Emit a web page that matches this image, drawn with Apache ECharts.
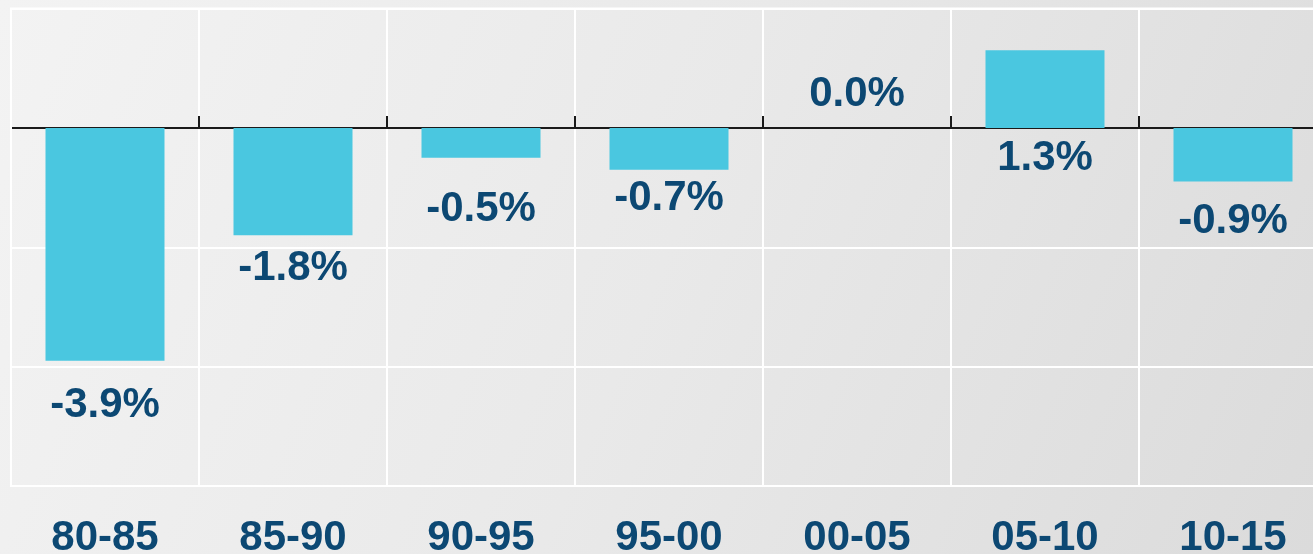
<!DOCTYPE html>
<html>
<head>
<meta charset="utf-8">
<script src="https://cdn.jsdelivr.net/npm/echarts@6/dist/echarts.min.js"></script>
<style>
html,body{margin:0;padding:0;background:#e8e8e8;overflow:hidden;}
#chart{width:1313px;height:554px;}
</style>
</head>
<body>
<div id="chart"></div>
<script>
// ---- data ----
const categories = ['80-85', '85-90', '90-95', '95-00', '00-05', '05-10', '10-15'];
const values = [-3.9, -1.8, -0.5, -0.7, 0.0, 1.3, -0.9];
const yMin = -6, yMax = 2, yInterval = 2;

// label placement tweaks (position relative to bar, pixel distance)
const labelPos = ['bottom', 'bottom', 'bottom', 'bottom', 'top', 'bottom', 'bottom'];
const labelDist = [24, 12, 31, 8, 12, 10, 19];

const navy = '#0c4873';
const fontFam = '"Liberation Sans", Arial, sans-serif';

const chart = echarts.init(document.getElementById('chart'), null, {renderer: 'canvas'});

const barData = values.map((v, i) => ({
  value: v,
  label: {position: labelPos[i], distance: labelDist[i]}
}));

chart.setOption({
  animation: false,
  backgroundColor: new echarts.graphic.LinearGradient(0, 0, 1, 1, [
    {offset: 0, color: '#f3f3f3'},
    {offset: 0.5, color: '#e9e9e9'},
    {offset: 1, color: '#dbdbdb'}
  ]),
  grid: {left: 11, top: 8.5, width: 1316, height: 477.5, containLabel: false, outerBoundsMode: 'none'},
  xAxis: [
    {
      type: 'category',
      data: categories,
      position: 'bottom',
      axisLine: {show: true, onZero: true, lineStyle: {color: '#1a1a1a', width: 2}},
      axisTick: {show: true, inside: true, length: 12, lineStyle: {color: '#1a1a1a', width: 2}},
      axisLabel: {show: false},
      splitLine: {show: true, lineStyle: {color: '#ffffff', width: 2}}
    },
    {
      type: 'category',
      data: categories,
      position: 'bottom',
      axisLine: {show: false, onZero: false},
      axisTick: {show: false},
      axisLabel: {show: true, margin: 31, color: navy, fontSize: 42, fontWeight: 'bold', fontFamily: fontFam},
      splitLine: {show: false}
    }
  ],
  yAxis: {
    type: 'value',
    min: yMin, max: yMax, interval: yInterval,
    axisLine: {show: false},
    axisTick: {show: false},
    axisLabel: {show: false},
    splitLine: {show: true, lineStyle: {color: '#ffffff', width: 2}}
  },
  graphic: [
    {
      type: 'rect', z: 1, silent: true,
      shape: {x: 11, y: 8.5, width: 1316, height: 477.5},
      style: {fill: 'none', stroke: '#ffffff', lineWidth: 2}
    }
  ],
  series: [{
    type: 'bar',
    xAxisIndex: 0,
    data: barData,
    barWidth: 119,
    itemStyle: {color: '#4ac7e0'},
    z: 3,
    label: {
      show: true,
      color: navy,
      fontSize: 42,
      fontWeight: 'bold',
      fontFamily: fontFam,
      formatter: p => p.value.toFixed(1) + '%'
    }
  }]
});
</script>
</body>
</html>
